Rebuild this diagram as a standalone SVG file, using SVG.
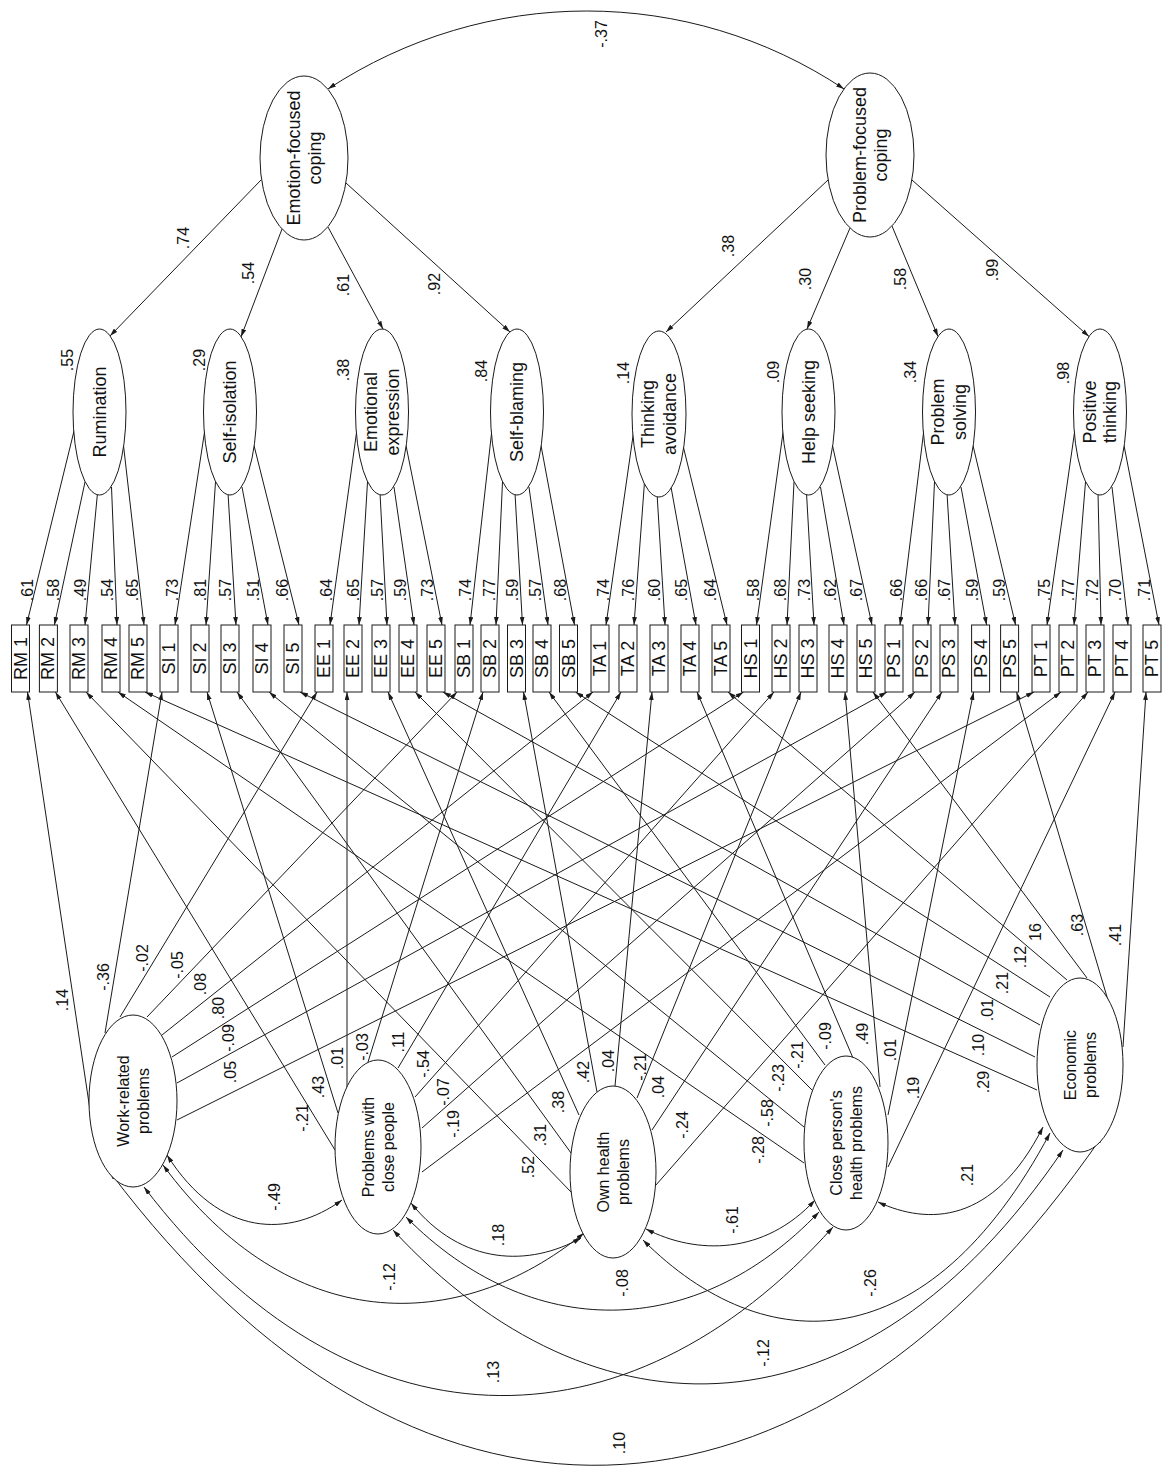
<svg xmlns="http://www.w3.org/2000/svg" width="1162" height="1468" viewBox="0 0 1162 1468">
<defs>
<marker id="ah" viewBox="0 0 10 6" refX="10" refY="3" markerWidth="8" markerHeight="5" markerUnits="userSpaceOnUse" orient="auto"><path d="M0,0 L10,3 L0,6 z" fill="#1a1a1a"/></marker>
<marker id="ahs" viewBox="0 0 10 6" refX="10" refY="3" markerWidth="8" markerHeight="5" markerUnits="userSpaceOnUse" orient="auto-start-reverse"><path d="M0,0 L10,3 L0,6 z" fill="#1a1a1a"/></marker>
</defs>
<style>
.l{stroke:#1a1a1a;stroke-width:1;fill:none;marker-end:url(#ah)}
.c{stroke:#1a1a1a;stroke-width:1;fill:none;marker-start:url(#ahs);marker-end:url(#ah)}
.e{fill:#fff;stroke:#1a1a1a;stroke-width:1}
.b{fill:#fff;stroke:#1a1a1a;stroke-width:1}
text{font-family:"Liberation Sans",Arial,sans-serif;fill:#111;text-anchor:middle;dominant-baseline:central}
.n{font-size:16px}
.t{font-size:18px}
.p{font-size:16px}
.bx{font-size:18px}
</style>
<rect width="1162" height="1468" fill="#fff"/>

<g id="connectors">
<!-- correlation of the two coping styles -->
<path class="c" d="M328,89 C486,-15 688,-15 844,89"/>
<!-- second-order loadings -->
<path class="l" d="M261,180 L110,336"/>
<path class="l" d="M282,229 L241,337"/>
<path class="l" d="M328,227 L383,329"/>
<path class="l" d="M346,183 L510,332"/>
<path class="l" d="M828,180 L666,332"/>
<path class="l" d="M850,228 L807,329"/>
<path class="l" d="M892,226 L938,336.5"/>
<path class="l" d="M912,180 L1089,336.5"/>
<!-- first-order loadings -->
<path class="l" d="M74.5,429 L26.5,625"/><path class="l" d="M85,482 L54.4,625"/><path class="l" d="M97.5,493 L85,625"/><path class="l" d="M111.5,487 L117,625"/><path class="l" d="M123.5,445.5 L144,625"/>
<path class="l" d="M205,429 L175,625"/><path class="l" d="M215.5,482 L206,625"/><path class="l" d="M228,493 L236,625"/><path class="l" d="M242,487 L268,625"/><path class="l" d="M254,445.5 L299,625"/>
<path class="l" d="M357,429 L330,625"/><path class="l" d="M367.5,482 L359,625"/><path class="l" d="M380,493 L387,625"/><path class="l" d="M394,487 L414,625"/><path class="l" d="M406,445.5 L442,625"/>
<path class="l" d="M492,429 L470,625"/><path class="l" d="M502.5,482 L496,625"/><path class="l" d="M515,493 L522.5,625"/><path class="l" d="M529,487 L548,625"/><path class="l" d="M541,445.5 L574.5,625"/>
<path class="l" d="M634,429 L606,625"/><path class="l" d="M644.5,482 L634,625"/><path class="l" d="M657,493 L665,625"/><path class="l" d="M671,487 L696,625"/><path class="l" d="M683,445.5 L727,625"/>
<path class="l" d="M783.5,429 L756.5,625"/><path class="l" d="M794,482 L787,625"/><path class="l" d="M806.5,493 L814,625"/><path class="l" d="M820.5,487 L844,625"/><path class="l" d="M832.5,445.5 L872,625"/>
<path class="l" d="M924,429 L900,625"/><path class="l" d="M934.5,482 L928,625"/><path class="l" d="M947,493 L955,625"/><path class="l" d="M961,487 L986.6,625"/><path class="l" d="M973,445.5 L1015.6,625"/>
<path class="l" d="M1075,429 L1047,625"/><path class="l" d="M1085.5,482 L1074,625"/><path class="l" d="M1098,493 L1101,625"/><path class="l" d="M1112,487 L1128,625"/><path class="l" d="M1124,445.5 L1159,625"/>
<!-- problem domains to items -->
<path class="l" d="M90,1110 L27.5,692"/><path class="l" d="M105,1033 L162,692"/><path class="l" d="M120,1017 L317,692"/><path class="l" d="M147,1017 L457,692"/><path class="l" d="M162,1035 L593,692"/><path class="l" d="M172,1057 L743.5,692"/><path class="l" d="M177,1083 L887,692"/><path class="l" d="M177,1120 L1034,692"/>
<path class="l" d="M335,1150 L55.4,692"/><path class="l" d="M338,1113 L207,692"/><path class="l" d="M347,1087 L347,692"/><path class="l" d="M368,1062 L483,692"/><path class="l" d="M398,1068 L621,692"/><path class="l" d="M415,1097 L774,692"/><path class="l" d="M422,1128 L915,692"/><path class="l" d="M422,1172 L1061,692"/>
<path class="l" d="M572,1193 L86,692"/><path class="l" d="M571,1153 L237,692"/><path class="l" d="M579,1115 L388,692"/><path class="l" d="M597,1092 L523.5,692"/><path class="l" d="M615,1086 L652,692"/><path class="l" d="M637,1098 L801,692"/><path class="l" d="M652,1130 L942,692"/><path class="l" d="M656,1185 L1088,692"/>
<path class="l" d="M804,1163 L118,692"/><path class="l" d="M804,1127 L269,692"/><path class="l" d="M812,1090 L415,692"/><path class="l" d="M825,1065 L549,692"/><path class="l" d="M853,1058 L697,692"/><path class="l" d="M880,1087 L845,692"/><path class="l" d="M888,1115 L973.6,692"/><path class="l" d="M888,1167 L1115,692"/>
<path class="l" d="M1037,1090 L145,692"/><path class="l" d="M1035,1057 L300,692"/><path class="l" d="M1040,1025 L443,692"/><path class="l" d="M1050,997 L575.5,692"/><path class="l" d="M1067,980 L728,692"/><path class="l" d="M1087,978 L873,692"/><path class="l" d="M1110,1007 L1016.6,692"/><path class="l" d="M1123,1047 L1146,692"/>
<!-- correlations among problem domains -->
<path class="c" d="M167,1155 C219.5,1238 289.5,1238 342,1200"/>
<path class="c" d="M411,1203 C462,1266.5 530,1266.5 581,1238"/>
<path class="c" d="M646,1229 C696.7,1255 764.3,1255 815,1200"/>
<path class="c" d="M878,1202 C927.5,1225 993.5,1225 1043,1127"/>
<path class="c" d="M163,1165 C289,1336 458,1336 584,1233"/>
<path class="c" d="M406,1217 C530,1342 695,1342 819,1212"/>
<path class="c" d="M643,1240 C765,1362 928,1362 1050,1133"/>
<path class="c" d="M144,1187 C350.7,1458 626.3,1458 833,1227"/>
<path class="c" d="M393,1230 C594,1447 862,1447 1063,1150"/>
<path class="c" d="M110,1172 C408,1569 805,1569 1103,1135"/>
</g>

<!-- second-order factors -->
<g id="efc"><ellipse class="e" cx="304" cy="158" rx="44" ry="82"/><g transform="translate(304,158) rotate(-90)"><text class="t" y="-10">Emotion-focused</text><text class="t" y="11">coping</text></g></g>
<g id="pfc"><ellipse class="e" cx="870" cy="155" rx="44" ry="82"/><g transform="translate(870,155) rotate(-90)"><text class="t" y="-10">Problem-focused</text><text class="t" y="11">coping</text></g></g>

<!-- first-order factors -->
<g id="rumination"><ellipse class="e" cx="99.5" cy="412" rx="26.5" ry="83"/><text class="t" transform="translate(99.5,412) rotate(-90)">Rumination</text></g>
<g id="self-isolation"><ellipse class="e" cx="230" cy="412" rx="26.5" ry="83"/><text class="t" transform="translate(230,412) rotate(-90)">Self-isolation</text></g>
<g id="emotional-expression"><ellipse class="e" cx="382" cy="412" rx="26.5" ry="83"/><g transform="translate(382,412) rotate(-90)"><text class="t" y="-11">Emotional</text><text class="t" y="11">expression</text></g></g>
<g id="self-blaming"><ellipse class="e" cx="517" cy="412" rx="26.5" ry="83"/><text class="t" transform="translate(517,412) rotate(-90)">Self-blaming</text></g>
<g id="thinking-avoidance"><ellipse class="e" cx="659" cy="414" rx="27" ry="83"/><g transform="translate(659,414) rotate(-90)"><text class="t" y="-11">Thinking</text><text class="t" y="11">avoidance</text></g></g>
<g id="help-seeking"><ellipse class="e" cx="808.5" cy="412" rx="26.5" ry="83"/><text class="t" transform="translate(808.5,412) rotate(-90)">Help seeking</text></g>
<g id="problem-solving"><ellipse class="e" cx="949" cy="412" rx="26.5" ry="83"/><g transform="translate(949,412) rotate(-90)"><text class="t" y="-11">Problem</text><text class="t" y="11">solving</text></g></g>
<g id="positive-thinking"><ellipse class="e" cx="1100" cy="412" rx="26.5" ry="83"/><g transform="translate(1100,412) rotate(-90)"><text class="t" y="-10">Positive</text><text class="t" y="10">thinking</text></g></g>

<!-- observed items -->
<g id="items">
<g id="rm1"><rect class="b" x="11.5" y="625" width="18" height="67"/><text class="bx" transform="translate(20.5,658.5) rotate(-90)">RM 1</text></g>
<g id="rm2"><rect class="b" x="39.4" y="625" width="18" height="67"/><text class="bx" transform="translate(48.4,658.5) rotate(-90)">RM 2</text></g>
<g id="rm3"><rect class="b" x="70" y="625" width="18" height="67"/><text class="bx" transform="translate(79,658.5) rotate(-90)">RM 3</text></g>
<g id="rm4"><rect class="b" x="102" y="625" width="18" height="67"/><text class="bx" transform="translate(111,658.5) rotate(-90)">RM 4</text></g>
<g id="rm5"><rect class="b" x="129" y="625" width="18" height="67"/><text class="bx" transform="translate(138,658.5) rotate(-90)">RM 5</text></g>
<g id="si1"><rect class="b" x="160" y="625" width="18" height="67"/><text class="bx" transform="translate(169,658.5) rotate(-90)">SI 1</text></g>
<g id="si2"><rect class="b" x="191" y="625" width="18" height="67"/><text class="bx" transform="translate(200,658.5) rotate(-90)">SI 2</text></g>
<g id="si3"><rect class="b" x="221" y="625" width="18" height="67"/><text class="bx" transform="translate(230,658.5) rotate(-90)">SI 3</text></g>
<g id="si4"><rect class="b" x="253" y="625" width="18" height="67"/><text class="bx" transform="translate(262,658.5) rotate(-90)">SI 4</text></g>
<g id="si5"><rect class="b" x="284" y="625" width="18" height="67"/><text class="bx" transform="translate(293,658.5) rotate(-90)">SI 5</text></g>
<g id="ee1"><rect class="b" x="315" y="625" width="18" height="67"/><text class="bx" transform="translate(324,658.5) rotate(-90)">EE 1</text></g>
<g id="ee2"><rect class="b" x="344" y="625" width="18" height="67"/><text class="bx" transform="translate(353,658.5) rotate(-90)">EE 2</text></g>
<g id="ee3"><rect class="b" x="372" y="625" width="18" height="67"/><text class="bx" transform="translate(381,658.5) rotate(-90)">EE 3</text></g>
<g id="ee4"><rect class="b" x="399" y="625" width="18" height="67"/><text class="bx" transform="translate(408,658.5) rotate(-90)">EE 4</text></g>
<g id="ee5"><rect class="b" x="427" y="625" width="18" height="67"/><text class="bx" transform="translate(436,658.5) rotate(-90)">EE 5</text></g>
<g id="sb1"><rect class="b" x="455" y="625" width="18" height="67"/><text class="bx" transform="translate(464,658.5) rotate(-90)">SB 1</text></g>
<g id="sb2"><rect class="b" x="481" y="625" width="18" height="67"/><text class="bx" transform="translate(490,658.5) rotate(-90)">SB 2</text></g>
<g id="sb3"><rect class="b" x="507.5" y="625" width="18" height="67"/><text class="bx" transform="translate(516.5,658.5) rotate(-90)">SB 3</text></g>
<g id="sb4"><rect class="b" x="533" y="625" width="18" height="67"/><text class="bx" transform="translate(542,658.5) rotate(-90)">SB 4</text></g>
<g id="sb5"><rect class="b" x="559.5" y="625" width="18" height="67"/><text class="bx" transform="translate(568.5,658.5) rotate(-90)">SB 5</text></g>
<g id="ta1"><rect class="b" x="591" y="625" width="18" height="67"/><text class="bx" transform="translate(600,658.5) rotate(-90)">TA 1</text></g>
<g id="ta2"><rect class="b" x="619" y="625" width="18" height="67"/><text class="bx" transform="translate(628,658.5) rotate(-90)">TA 2</text></g>
<g id="ta3"><rect class="b" x="650" y="625" width="18" height="67"/><text class="bx" transform="translate(659,658.5) rotate(-90)">TA 3</text></g>
<g id="ta4"><rect class="b" x="681" y="625" width="18" height="67"/><text class="bx" transform="translate(690,658.5) rotate(-90)">TA 4</text></g>
<g id="ta5"><rect class="b" x="712" y="625" width="18" height="67"/><text class="bx" transform="translate(721,658.5) rotate(-90)">TA 5</text></g>
<g id="hs1"><rect class="b" x="741.5" y="625" width="18" height="67"/><text class="bx" transform="translate(750.5,658.5) rotate(-90)">HS 1</text></g>
<g id="hs2"><rect class="b" x="772" y="625" width="18" height="67"/><text class="bx" transform="translate(781,658.5) rotate(-90)">HS 2</text></g>
<g id="hs3"><rect class="b" x="799" y="625" width="18" height="67"/><text class="bx" transform="translate(808,658.5) rotate(-90)">HS 3</text></g>
<g id="hs4"><rect class="b" x="829" y="625" width="18" height="67"/><text class="bx" transform="translate(838,658.5) rotate(-90)">HS 4</text></g>
<g id="hs5"><rect class="b" x="857" y="625" width="18" height="67"/><text class="bx" transform="translate(866,658.5) rotate(-90)">HS 5</text></g>
<g id="ps1"><rect class="b" x="885" y="625" width="18" height="67"/><text class="bx" transform="translate(894,658.5) rotate(-90)">PS 1</text></g>
<g id="ps2"><rect class="b" x="913" y="625" width="18" height="67"/><text class="bx" transform="translate(922,658.5) rotate(-90)">PS 2</text></g>
<g id="ps3"><rect class="b" x="940" y="625" width="18" height="67"/><text class="bx" transform="translate(949,658.5) rotate(-90)">PS 3</text></g>
<g id="ps4"><rect class="b" x="971.6" y="625" width="18" height="67"/><text class="bx" transform="translate(980.6,658.5) rotate(-90)">PS 4</text></g>
<g id="ps5"><rect class="b" x="1000.6" y="625" width="18" height="67"/><text class="bx" transform="translate(1009.6,658.5) rotate(-90)">PS 5</text></g>
<g id="pt1"><rect class="b" x="1032" y="625" width="18" height="67"/><text class="bx" transform="translate(1041,658.5) rotate(-90)">PT 1</text></g>
<g id="pt2"><rect class="b" x="1059" y="625" width="18" height="67"/><text class="bx" transform="translate(1068,658.5) rotate(-90)">PT 2</text></g>
<g id="pt3"><rect class="b" x="1086" y="625" width="18" height="67"/><text class="bx" transform="translate(1095,658.5) rotate(-90)">PT 3</text></g>
<g id="pt4"><rect class="b" x="1113" y="625" width="18" height="67"/><text class="bx" transform="translate(1122,658.5) rotate(-90)">PT 4</text></g>
<g id="pt5"><rect class="b" x="1143" y="625" width="18" height="67"/><text class="bx" transform="translate(1152,658.5) rotate(-90)">PT 5</text></g>
</g>

<!-- problem domains -->
<g id="work"><ellipse class="e" cx="133" cy="1101" rx="44" ry="86"/><g transform="translate(133,1101) rotate(-90)"><text class="p" y="-10">Work-related</text><text class="p" y="10">problems</text></g></g>
<g id="close-people"><ellipse class="e" cx="378" cy="1147" rx="43" ry="87"/><g transform="translate(378,1147) rotate(-90)"><text class="p" y="-10">Problems with</text><text class="p" y="10">close people</text></g></g>
<g id="own-health"><ellipse class="e" cx="613" cy="1172" rx="43" ry="86"/><g transform="translate(613,1172) rotate(-90)"><text class="p" y="-10">Own health</text><text class="p" y="10">problems</text></g></g>
<g id="close-health"><ellipse class="e" cx="846" cy="1143" rx="42" ry="87"/><g transform="translate(846,1143) rotate(-90)"><text class="p" y="-10">Close person's</text><text class="p" y="10">health problems</text></g></g>
<g id="economic"><ellipse class="e" cx="1080" cy="1065" rx="43" ry="87"/><g transform="translate(1080,1065) rotate(-90)"><text class="p" y="-10">Economic</text><text class="p" y="10">problems</text></g></g>

<!-- coefficients -->
<g id="coefficients">
<text class="n" transform="translate(601,34) rotate(-90)">-.37</text>
<text class="n" transform="translate(183,238) rotate(-90)">.74</text>
<text class="n" transform="translate(248,273) rotate(-90)">.54</text>
<text class="n" transform="translate(343,285) rotate(-90)">.61</text>
<text class="n" transform="translate(434,284) rotate(-90)">.92</text>
<text class="n" transform="translate(728,246) rotate(-90)">.38</text>
<text class="n" transform="translate(805,279) rotate(-90)">.30</text>
<text class="n" transform="translate(900,279) rotate(-90)">.58</text>
<text class="n" transform="translate(992,270) rotate(-90)">.99</text>

<text class="n" transform="translate(67,360) rotate(-90)">.55</text>
<text class="n" transform="translate(199,360) rotate(-90)">.29</text>
<text class="n" transform="translate(343,370) rotate(-90)">.38</text>
<text class="n" transform="translate(481,371) rotate(-90)">.84</text>
<text class="n" transform="translate(623,373) rotate(-90)">.14</text>
<text class="n" transform="translate(773,372) rotate(-90)">.09</text>
<text class="n" transform="translate(910,372) rotate(-90)">.34</text>
<text class="n" transform="translate(1063,373) rotate(-90)">.98</text>

<text class="n" transform="translate(27.1,590) rotate(-90)">.61</text>
<text class="n" transform="translate(53.9,590) rotate(-90)">.58</text>
<text class="n" transform="translate(80.3,590) rotate(-90)">.49</text>
<text class="n" transform="translate(107.6,590) rotate(-90)">.54</text>
<text class="n" transform="translate(132,590) rotate(-90)">.65</text>
<text class="n" transform="translate(172.4,590) rotate(-90)">.73</text>
<text class="n" transform="translate(200.3,590) rotate(-90)">.81</text>
<text class="n" transform="translate(225.9,590) rotate(-90)">.57</text>
<text class="n" transform="translate(253.4,590) rotate(-90)">.51</text>
<text class="n" transform="translate(282.2,590) rotate(-90)">.66</text>
<text class="n" transform="translate(326.8,590) rotate(-90)">.64</text>
<text class="n" transform="translate(353.1,590) rotate(-90)">.65</text>
<text class="n" transform="translate(377.1,590) rotate(-90)">.57</text>
<text class="n" transform="translate(400.9,590) rotate(-90)">.59</text>
<text class="n" transform="translate(427,590) rotate(-90)">.73</text>
<text class="n" transform="translate(465.9,590) rotate(-90)">.74</text>
<text class="n" transform="translate(489.6,590) rotate(-90)">.77</text>
<text class="n" transform="translate(512.5,590) rotate(-90)">.59</text>
<text class="n" transform="translate(535.2,590) rotate(-90)">.57</text>
<text class="n" transform="translate(560,590) rotate(-90)">.68</text>
<text class="n" transform="translate(603,590) rotate(-90)">.74</text>
<text class="n" transform="translate(628.6,590) rotate(-90)">.76</text>
<text class="n" transform="translate(654.9,590) rotate(-90)">.60</text>
<text class="n" transform="translate(681.7,590) rotate(-90)">.65</text>
<text class="n" transform="translate(710.4,590) rotate(-90)">.64</text>
<text class="n" transform="translate(753.3,590) rotate(-90)">.58</text>
<text class="n" transform="translate(780.7,590) rotate(-90)">.68</text>
<text class="n" transform="translate(804,590) rotate(-90)">.73</text>
<text class="n" transform="translate(830,590) rotate(-90)">.62</text>
<text class="n" transform="translate(856.3,590) rotate(-90)">.67</text>
<text class="n" transform="translate(896.3,590) rotate(-90)">.66</text>
<text class="n" transform="translate(921.6,590) rotate(-90)">.66</text>
<text class="n" transform="translate(944.9,590) rotate(-90)">.67</text>
<text class="n" transform="translate(972.1,590) rotate(-90)">.59</text>
<text class="n" transform="translate(999.3,590) rotate(-90)">.59</text>
<text class="n" transform="translate(1044,590) rotate(-90)">.75</text>
<text class="n" transform="translate(1068.8,590) rotate(-90)">.77</text>
<text class="n" transform="translate(1092.2,590) rotate(-90)">.72</text>
<text class="n" transform="translate(1115.9,590) rotate(-90)">.70</text>
<text class="n" transform="translate(1144.2,590) rotate(-90)">.71</text>

<text class="n" transform="translate(62,1000) rotate(-90)">.14</text>
<text class="n" transform="translate(103,977) rotate(-90)">-.36</text>
<text class="n" transform="translate(142,958) rotate(-90)">-.02</text>
<text class="n" transform="translate(177,965) rotate(-90)">-.05</text>
<text class="n" transform="translate(200,984) rotate(-90)">.08</text>
<text class="n" transform="translate(218,1008) rotate(-90)">.80</text>
<text class="n" transform="translate(228,1038) rotate(-90)">-.09</text>
<text class="n" transform="translate(230,1072) rotate(-90)">.05</text>

<text class="n" transform="translate(302,1118) rotate(-90)">-.21</text>
<text class="n" transform="translate(318,1087) rotate(-90)">.43</text>
<text class="n" transform="translate(337,1058) rotate(-90)">.01</text>
<text class="n" transform="translate(362,1047) rotate(-90)">-.03</text>
<text class="n" transform="translate(398,1042) rotate(-90)">.11</text>
<text class="n" transform="translate(423,1064) rotate(-90)">-.54</text>
<text class="n" transform="translate(443,1092) rotate(-90)">-.07</text>
<text class="n" transform="translate(453,1124) rotate(-90)">-.19</text>

<text class="n" transform="translate(528,1167) rotate(-90)">.52</text>
<text class="n" transform="translate(540,1135) rotate(-90)">.31</text>
<text class="n" transform="translate(558,1102) rotate(-90)">.38</text>
<text class="n" transform="translate(583,1072) rotate(-90)">.42</text>
<text class="n" transform="translate(608,1061) rotate(-90)">.04</text>
<text class="n" transform="translate(640,1067) rotate(-90)">-.21</text>
<text class="n" transform="translate(658,1087) rotate(-90)">.04</text>
<text class="n" transform="translate(682,1125) rotate(-90)">-.24</text>

<text class="n" transform="translate(758,1150) rotate(-90)">-.28</text>
<text class="n" transform="translate(767,1113) rotate(-90)">-.58</text>
<text class="n" transform="translate(778,1078) rotate(-90)">-.23</text>
<text class="n" transform="translate(797,1055) rotate(-90)">-.21</text>
<text class="n" transform="translate(825,1036) rotate(-90)">-.09</text>
<text class="n" transform="translate(862,1034) rotate(-90)">.49</text>
<text class="n" transform="translate(890,1050) rotate(-90)">.01</text>
<text class="n" transform="translate(913,1088) rotate(-90)">.19</text>

<text class="n" transform="translate(983,1082) rotate(-90)">.29</text>
<text class="n" transform="translate(978,1045) rotate(-90)">.10</text>
<text class="n" transform="translate(987,1010) rotate(-90)">.01</text>
<text class="n" transform="translate(1002,983) rotate(-90)">.21</text>
<text class="n" transform="translate(1020,957) rotate(-90)">.12</text>
<text class="n" transform="translate(1035,932) rotate(-90)">16</text>
<text class="n" transform="translate(1077,925) rotate(-90)">.63</text>
<text class="n" transform="translate(1115,935) rotate(-90)">.41</text>

<text class="n" transform="translate(274,1197) rotate(-90)">-.49</text>
<text class="n" transform="translate(498,1235) rotate(-90)">.18</text>
<text class="n" transform="translate(732,1220) rotate(-90)">-.61</text>
<text class="n" transform="translate(967,1175) rotate(-90)">.21</text>
<text class="n" transform="translate(389,1277) rotate(-90)">-.12</text>
<text class="n" transform="translate(622,1283) rotate(-90)">-.08</text>
<text class="n" transform="translate(870,1283) rotate(-90)">-.26</text>
<text class="n" transform="translate(493,1372) rotate(-90)">.13</text>
<text class="n" transform="translate(763,1353) rotate(-90)">-.12</text>
<text class="n" transform="translate(619,1443) rotate(-90)">.10</text>
</g>
</svg>
